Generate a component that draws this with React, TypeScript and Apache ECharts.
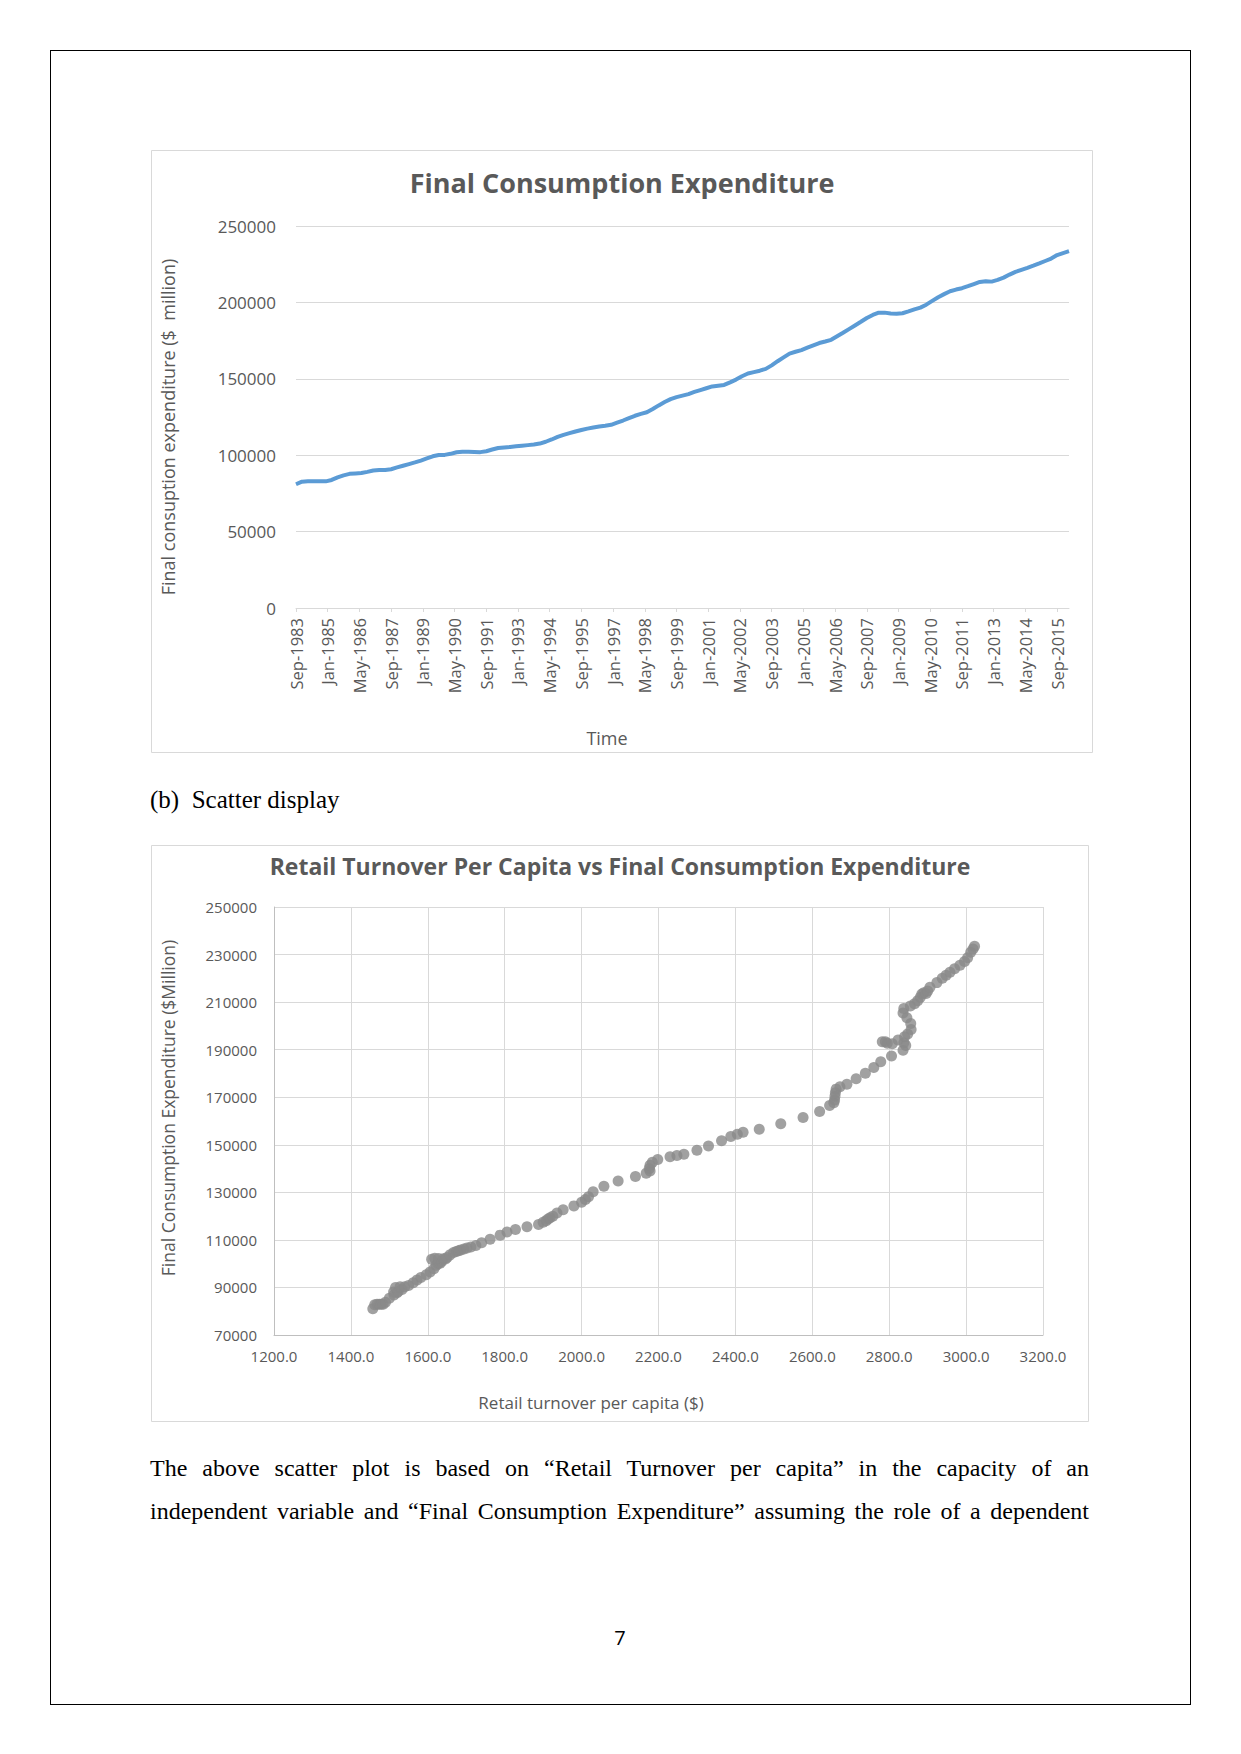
import React, { useEffect, useRef } from "react";
import * as echarts from "echarts";

const FONT = "'Open Sans', 'DejaVu Sans', sans-serif";
const SERIF = "'Liberation Serif', 'Times New Roman', serif";

// Monthly category axis (Sep-1983 .. Mar-2016); the data is quarterly
const MONTH_NAMES = ["Jan", "Feb", "Mar", "Apr", "May", "Jun", "Jul", "Aug", "Sep", "Oct", "Nov", "Dec"];
const START_YEAR = 1983;
const START_MONTH = 8; // Sep
const MONTH_COUNT = 391;
const timeCategories: string[] = Array.from({ length: MONTH_COUNT }, (_, i) => {
  const t = START_MONTH + i;
  return `${MONTH_NAMES[t % 12]}-${START_YEAR + Math.floor(t / 12)}`;
});

// Final consumption expenditure ($ million), quarterly from Sep-1983
const fceQuarterly: number[] = [
  81000, 82700, 82900, 82900, 82900, 82900, 83800, 85500, 86800, 87800,
  88100, 88300, 89100, 90000, 90300, 90300, 90800, 92000, 93100, 94200,
  95300, 96500, 97900, 99300, 100100, 100200, 100900, 101900, 102300, 102200,
  102100, 102000, 102600, 103700, 104700, 105100, 105400, 105800, 106200, 106600,
  107000, 107600, 108800, 110300, 112000, 113300, 114400, 115500, 116500, 117400,
  118100, 118800, 119300, 119900, 121300, 122700, 124300, 125800, 127000, 128100,
  130200, 132600, 134800, 136700, 138000, 139000, 140000, 141400, 142600, 143800,
  145000, 145500, 146000, 147700, 149500, 151700, 153500, 154400, 155300, 156500,
  158800, 161500, 164000, 166500, 167700, 168800, 170400, 171900, 173400, 174400,
  175500, 177800, 180100, 182500, 184900, 187300, 189800, 191800, 193300, 193300,
  192700, 192500, 192900, 194100, 195400, 196600, 198500, 201000, 203400, 205400,
  207300, 208400, 209300, 210600, 212000, 213400, 213900, 213600, 214700, 216200,
  218200, 220000, 221300, 222600, 224000, 225500, 227100, 228700, 231000, 232300,
  233500,
];

// Retail turnover per capita ($), same quarters
const retailPerCapita: number[] = [
  1457, 1462, 1468, 1474, 1479, 1484, 1490, 1500, 1512, 1520,
  1511, 1523, 1533, 1516, 1528, 1540,
  1550, 1562, 1572, 1582, 1596, 1606, 1616, 1622, 1627, 1632, 1636,
  1610, 1618, 1628, 1640, 1646, 1650, 1658, 1667, 1674, 1680, 1686, 1694, 1702, 1712, 1725, 1740, 1762, 1788, 1806, 1828, 1858, 1888,
  1900, 1908, 1913, 1918, 1925, 1936, 1952, 1980, 2000, 2010, 2018, 2030, 2058, 2095, 2140, 2168, 2178, 2176, 2178, 2184, 2198,
  2230, 2248, 2266, 2300, 2330, 2364, 2388, 2405, 2420, 2462, 2518, 2576, 2619, 2645, 2656, 2658, 2659, 2660, 2662, 2672, 2690, 2714, 2738, 2760, 2778, 2806,
  2836, 2843, 2790, 2782, 2795, 2808, 2838, 2823, 2840, 2848, 2857, 2856, 2846, 2836, 2838, 2855, 2866, 2874, 2881, 2885, 2890, 2896, 2900, 2906, 2924, 2938, 2948, 2958, 2970, 2984, 2996, 3004, 3012, 3018, 3022,
];

const lineTitle = "Final Consumption Expenditure";
const lineYName = "Final consuption expenditure ($  million)";
const lineXName = "Time";
const scatterTitle = "Retail Turnover Per Capita vs Final Consumption Expenditure";
const scatterXName = "Retail turnover per capita ($)";
const scatterYName = "Final Consumption Expenditure ($Million)";

const C1_W = 942, C1_H = 603;
const C2_W = 938, C2_H = 577;

export default function App() {
  const lineRef = useRef<HTMLDivElement>(null);
  const scatterRef = useRef<HTMLDivElement>(null);

  useEffect(() => {
    const c1 = echarts.init(lineRef.current!, undefined, { renderer: "svg" });
    const lineData = timeCategories.map((_, i) => (i % 3 === 0 ? fceQuarterly[i / 3] : null));
    c1.setOption({
      animation: false,
      textStyle: { fontFamily: FONT },
      title: {
        text: lineTitle,
        left: "center",
        top: 14,
        textStyle: { fontSize: 27, fontWeight: "bold", color: "#595959", fontFamily: FONT },
      },
      grid: { left: 145, right: 24, top: 76, bottom: 145 },
      xAxis: {
        type: "category",
        data: timeCategories,
        boundaryGap: false,
        axisLine: { show: true, lineStyle: { color: "#d9d9d9", width: 1 } },
        axisTick: { show: true, interval: 15, length: 4, lineStyle: { color: "#d9d9d9" } },
        axisLabel: { interval: 15, rotate: 90, margin: 10, fontSize: 16.5, color: "#595959", fontFamily: FONT },
        splitLine: { show: false },
      },
      yAxis: {
        type: "value",
        min: 0,
        max: 250000,
        interval: 50000,
        axisLine: { show: false },
        axisTick: { show: false },
        axisLabel: { margin: 20, fontSize: 17, color: "#595959", fontFamily: FONT, formatter: (v: number) => String(v) },
        splitLine: { show: true, lineStyle: { color: "#d9d9d9", width: 1 } },
      },
      series: [
        {
          type: "line",
          data: lineData,
          connectNulls: true,
          showSymbol: false,
          symbol: "none",
          lineStyle: { color: "#5b9bd5", width: 4 },
          itemStyle: { color: "#5b9bd5" },
        },
      ],
      graphic: [
        {
          type: "rect",
          silent: true,
          z: -1,
          shape: { x: 0.5, y: 0.5, width: C1_W - 1, height: C1_H - 1 },
          style: { fill: "none", stroke: "#d9d9d9", lineWidth: 1 },
        },
        {
          type: "text",
          x: 456,
          y: 588,
          style: { text: lineXName, fontSize: 18, fontFamily: FONT, fill: "#595959", align: "center", verticalAlign: "middle" },
        },
        {
          type: "text",
          x: 17,
          y: 277,
          rotation: Math.PI / 2,
          style: { text: lineYName, fontSize: 18, fontFamily: FONT, fill: "#595959", align: "center", verticalAlign: "middle" },
        },
      ],
    });

    const c2 = echarts.init(scatterRef.current!, undefined, { renderer: "svg" });
    c2.setOption({
      animation: false,
      textStyle: { fontFamily: FONT },
      title: {
        text: scatterTitle,
        left: "center",
        top: 4,
        textStyle: { fontSize: 23, fontWeight: "bold", color: "#595959", fontFamily: FONT },
      },
      grid: { left: 123, right: 46, top: 62, bottom: 87 },
      xAxis: {
        type: "value",
        min: 1200,
        max: 3200,
        interval: 200,
        axisLine: { show: true, lineStyle: { color: "#bfbfbf" } },
        axisTick: { show: false },
        axisLabel: { margin: 13, fontSize: 15, color: "#595959", fontFamily: FONT, formatter: (v: number) => v.toFixed(1) },
        splitLine: { show: true, lineStyle: { color: "#d9d9d9", width: 1 } },
      },
      yAxis: {
        type: "value",
        min: 70000,
        max: 250000,
        interval: 20000,
        axisLine: { show: true, lineStyle: { color: "#bfbfbf" } },
        axisTick: { show: false },
        axisLabel: { margin: 17, fontSize: 15, color: "#595959", fontFamily: FONT, formatter: (v: number) => String(v) },
        splitLine: { show: true, lineStyle: { color: "#d9d9d9", width: 1 } },
      },
      series: [
        {
          type: "scatter",
          data: retailPerCapita.map((x, i) => [x, fceQuarterly[i]]),
          symbol: "circle",
          symbolSize: 11,
          itemStyle: { color: "#8a8a8a" },
        },
      ],
      graphic: [
        {
          type: "rect",
          silent: true,
          z: -1,
          shape: { x: 0.5, y: 0.5, width: C2_W - 1, height: C2_H - 1 },
          style: { fill: "none", stroke: "#d9d9d9", lineWidth: 1 },
        },
        {
          type: "text",
          x: 440,
          y: 557,
          style: { text: scatterXName, fontSize: 17, fontFamily: FONT, fill: "#595959", align: "center", verticalAlign: "middle" },
        },
        {
          type: "text",
          x: 17,
          y: 263,
          rotation: Math.PI / 2,
          style: { text: scatterYName, fontSize: 17.5, fontFamily: FONT, fill: "#595959", align: "center", verticalAlign: "middle" },
        },
      ],
    });

    return () => {
      c1.dispose();
      c2.dispose();
    };
  }, []);

  const para: React.CSSProperties = {
    position: "absolute",
    left: 150,
    width: 939,
    fontFamily: SERIF,
    fontSize: 24,
    lineHeight: "30px",
    color: "#000",
    textAlign: "justify",
    textAlignLast: "justify" as any,
  };

  return (
    <div style={{ position: "absolute", left: 0, top: 0, width: 1241, height: 1754, background: "#fff", overflow: "hidden" }}>
      <div style={{ position: "absolute", left: 50, top: 50, width: 1141, height: 1655, border: "1px solid #000", boxSizing: "border-box" }} />
      <div ref={lineRef} style={{ position: "absolute", left: 151, top: 150, width: C1_W, height: C1_H }} />
      <div style={{ position: "absolute", left: 150, top: 785, fontFamily: SERIF, fontSize: 25, lineHeight: "30px", color: "#000", whiteSpace: "pre" }}>
        {"(b)  Scatter display"}
      </div>
      <div ref={scatterRef} style={{ position: "absolute", left: 151, top: 845, width: C2_W, height: C2_H }} />
      <div style={{ ...para, top: 1453 }}>
        The above scatter plot is based on “Retail Turnover per capita” in the capacity of an
      </div>
      <div style={{ ...para, top: 1496 }}>
        independent variable and “Final Consumption Expenditure” assuming the role of a dependent
      </div>
      <div style={{ position: "absolute", left: 600, width: 40, top: 1625, textAlign: "center", fontFamily: FONT, fontSize: 20, lineHeight: "26px", color: "#000" }}>
        7
      </div>
    </div>
  );
}
